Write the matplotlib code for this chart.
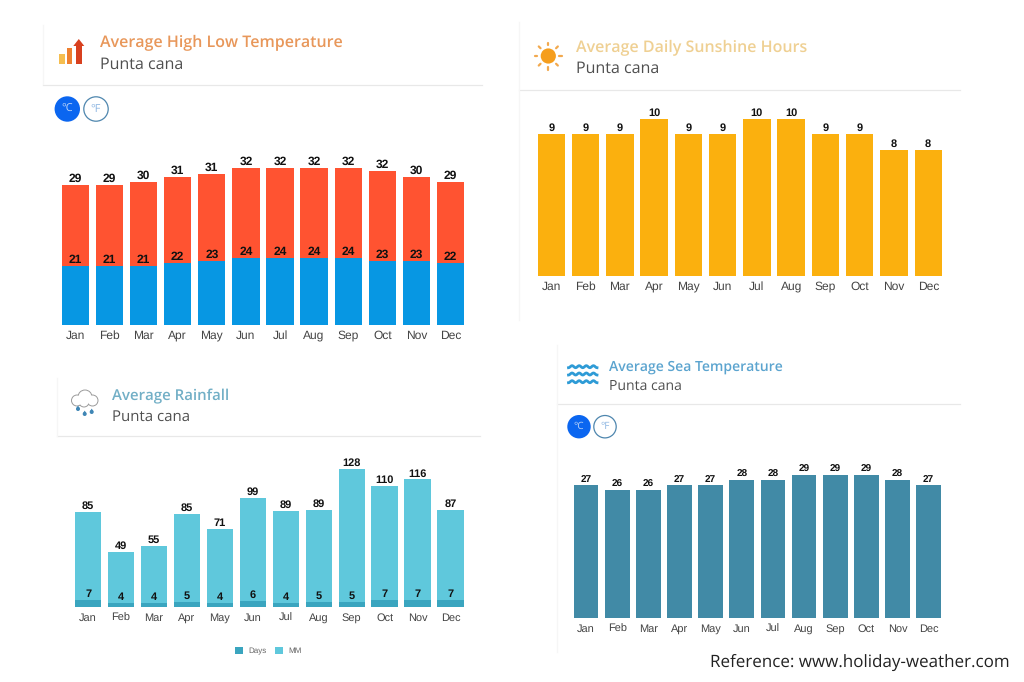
import numpy as np
import matplotlib
matplotlib.use("Agg")
import matplotlib.pyplot as plt
from matplotlib.patches import Circle, Rectangle, Polygon

plt.rcParams["text.hinting"] = "no_hinting"
plt.rcParams["text.hinting_factor"] = 1

W, H = 1024, 682

months = ["Jan", "Feb", "Mar", "Apr", "May", "Jun", "Jul", "Aug", "Sep", "Oct", "Nov", "Dec"]
temp_low = [21, 21, 21, 22, 23, 24, 24, 24, 24, 23, 23, 22]
temp_high = [29, 29, 30, 31, 31, 32, 32, 32, 32, 32, 30, 29]
sunshine = [9, 9, 9, 10, 9, 9, 10, 10, 9, 9, 8, 8]
rain_days = [7, 4, 4, 5, 4, 6, 4, 5, 5, 7, 7, 7]
rain_mm = [85, 49, 55, 85, 71, 99, 89, 89, 128, 110, 116, 87]
sea_temp = [27, 26, 26, 27, 27, 28, 28, 29, 29, 29, 28, 27]

RED, BLUE = "#FF5331", "#0797E3"
SUN = "#FBB00E"
MM, DAYS = "#5FC8DC", "#3AA5BF"
SEA = "#418AA6"
SANS = "Liberation Sans"
UI = "Open Sans"

fig = plt.figure(figsize=(W / 100, H / 100), dpi=100, facecolor="white")


def make_axes(c_first, c_last, base, per_unit, top_px):
    """Axes whose x positions 0..11 land on c_first..c_last and y=0 on base (pixels)."""
    sp = (c_last - c_first) / 11
    left = c_first - sp / 2
    width = sp * 12
    ax = fig.add_axes([left / W, 1 - base / H, width / W, (base - top_px) / H])
    ax.set_xlim(-0.5, 11.5)
    ax.set_ylim(0, (base - top_px) / per_unit)
    ax.patch.set_alpha(0)
    for s in ax.spines.values():
        s.set_visible(False)
    ax.set_yticks([])
    return ax, sp


def finish(ax, size, pad):
    ax.set_xticks(range(12))
    ax.set_xticklabels(months, fontsize=size, family=SANS, color="#444444", va="baseline")
    ax.tick_params(axis="x", length=0, pad=pad)


def labels(ax, tops, values, size):
    for i, (t, v) in enumerate(zip(tops, values)):
        ax.annotate(str(v), (i, t), xytext=(0, 2.1), textcoords="offset points",
                    ha="center", va="baseline", fontsize=size, fontweight="bold",
                    family=SANS, color="#111111", annotation_clip=False)


x = np.arange(12)

# Temperature (stacked)
ax, sp = make_axes(75.3, 450.6, 325, 2.8, 150)
low = np.array(temp_low)
high = np.array(temp_high)
ax.bar(x, low, width=27.4 / sp, color=BLUE)
ax.bar(x, high, bottom=low, width=27.4 / sp, color=RED)
labels(ax, low, temp_low, 8.6)
labels(ax, low + high, temp_high, 8.6)
finish(ax, 8.4, 10.0)

# Sunshine
ax, sp = make_axes(551.3, 928.2, 275.7, 15.72, 105)
ax.bar(x, sunshine, width=27.4 / sp, color=SUN)
labels(ax, sunshine, sunshine, 8.0)
finish(ax, 8.4, 10.2)

# Rainfall (stacked)
ax, sp = make_axes(88.1, 450.5, 607.3, 1.04, 450)
days = np.array(rain_days)
mm = np.array(rain_mm)
b_days = ax.bar(x, days, width=26.3 / sp, color=DAYS, label="Days")
b_mm = ax.bar(x, mm, bottom=days, width=26.3 / sp, color=MM, label="MM")
labels(ax, days, rain_days, 8.0)
labels(ax, days + mm, rain_mm, 8.0)
finish(ax, 8.0, 9.78)
fig.legend(handles=[b_days, b_mm], loc="center", bbox_to_anchor=(268.5 / W, 1 - 651 / H),
           ncol=2, frameon=False, prop={"family": SANS, "size": 5.8}, labelcolor="#666666",
           handlelength=1.0, handleheight=1.0, handletextpad=0.7, columnspacing=1.0,
           borderpad=0, borderaxespad=0)

# Sea temperature
ax, sp = make_axes(586, 928.7, 618.3, 4.95, 460)
ax.bar(x, sea_temp, width=24.7 / sp, color=SEA)
labels(ax, sea_temp, sea_temp, 7.5)
finish(ax, 7.7, 9.78)

# Overlay in pixel coordinates: headers, rules, icons
ov = fig.add_axes([0, 0, 1, 1], zorder=-1)
ov.set_xlim(0, W)
ov.set_ylim(H, 0)
ov.axis("off")

deco = fig.add_axes([0, 0, 1, 1], zorder=5)
deco.set_xlim(0, W)
deco.set_ylim(H, 0)
deco.axis("off")
deco.patch.set_alpha(0)

# header rules and faint panel edges
for (x0, x1, y) in [(43, 482, 84.5), (57, 480, 436), (519, 960, 89.5), (557, 960, 404.3)]:
    ov.plot([x0, x1], [y, y], color="#E8E8E8", lw=0.9)
for (xx, y0, y1) in [(519, 22, 320), (557, 345, 652), (43, 25, 84), (57, 378, 436)]:
    ov.plot([xx, xx], [y0, y1], color="#F6F6F6", lw=0.9)

# titles
headers = [
    (100, 43, 64.5, "Average High Low Temperature", "#E8975A", 11.25, 11.2),
    (576, 48, 69, "Average Daily Sunshine Hours", "#EFD093", 11.2, 11.2),
    (112.5, 396, 417, "Average Rainfall", "#72AFC6", 10.8, 10.8),
    (609, 367, 386, "Average Sea Temperature", "#5BA4CF", 10.4, 10.3),
]
for hx, y1, y2, title, col, s1, s2 in headers:
    deco.text(hx, y1, title, color=col, fontsize=s1, fontweight="semibold", family=UI,
              ha="left", va="center")
    deco.text(hx, y2, "Punta cana", color="#4F4F4F", fontsize=s2, family=UI,
              ha="left", va="center")

deco.text(860, 662, "Reference: www.holiday-weather.com", color="#222222", fontsize=12.0,
          family=UI, ha="center", va="center")


# toggles
def toggle(cx1, cx2, cy, r, size):
    deco.add_patch(Circle((cx1, cy), r, fc="#0B66F0", ec="none"))
    deco.add_patch(Circle((cx2, cy), r - 0.5, fc="white", ec="#4E86AE", lw=0.9))
    deco.text(cx1, cy, "°C", color="#BBD4F8", fontsize=size, ha="center", va="center", family=UI)
    deco.text(cx2, cy, "°F", color="#8DB6E2", fontsize=size, ha="center", va="center", family=UI)


toggle(67.3, 96, 109, 12.7, 8)
toggle(579, 605, 426.7, 11.7, 7.5)

# temperature icon
deco.add_patch(Rectangle((59, 54), 5.5, 9.5, fc="#F5BE50", ec="none"))
deco.add_patch(Rectangle((66.5, 47.7), 5.8, 15.8, fc="#EE8030", ec="none"))
deco.add_patch(Rectangle((75.8, 45), 6.2, 18.5, fc="#D8401F", ec="none"))
deco.add_patch(Polygon([(73.3, 46), (84.3, 46), (78.8, 39)], fc="#D8401F", ec="none"))

# sun icon
scx, scy = 548.3, 56
for a in np.arange(0, 360, 45):
    ca, sa = np.cos(np.radians(a)), np.sin(np.radians(a))
    deco.plot([scx + 11 * ca, scx + 13.5 * ca], [scy + 11 * sa, scy + 13.5 * sa],
              color="#F2A94E", lw=1.6, solid_capstyle="round")
deco.add_patch(Circle((scx, scy), 7.6, fc="#F59E1E", ec="none"))

# cloud icon
puffs = [(77, 400.5, 5), (85, 397, 6.5), (92.5, 400.5, 5), (84, 402, 4.5)]
for c in puffs:
    deco.add_patch(Circle(c[:2], c[2], fc="#9A9A9A", ec="#9A9A9A", lw=1.4))
for c in puffs:
    deco.add_patch(Circle(c[:2], c[2], fc="white", ec="none"))
for dx, dy in [(78, 409), (84.7, 414), (91.7, 412)]:
    deco.add_patch(Circle((dx, dy), 2.0, fc="#3F86B5", ec="none"))
    deco.add_patch(Polygon([(dx - 1.8, dy - 0.7), (dx + 1.8, dy - 0.7), (dx, dy - 3.4)],
                           fc="#3F86B5", ec="none"))

# wave icon
wx = np.linspace(568.5, 597, 80)
for wy in [366.7, 374, 381.7]:
    deco.plot(wx, wy + 1.0 * np.cos((wx - 568.5) / 28.5 * 2 * np.pi * 4), color="#2E9BD6", lw=2.0)

fig.savefig("out.png", dpi=100, facecolor="white")
